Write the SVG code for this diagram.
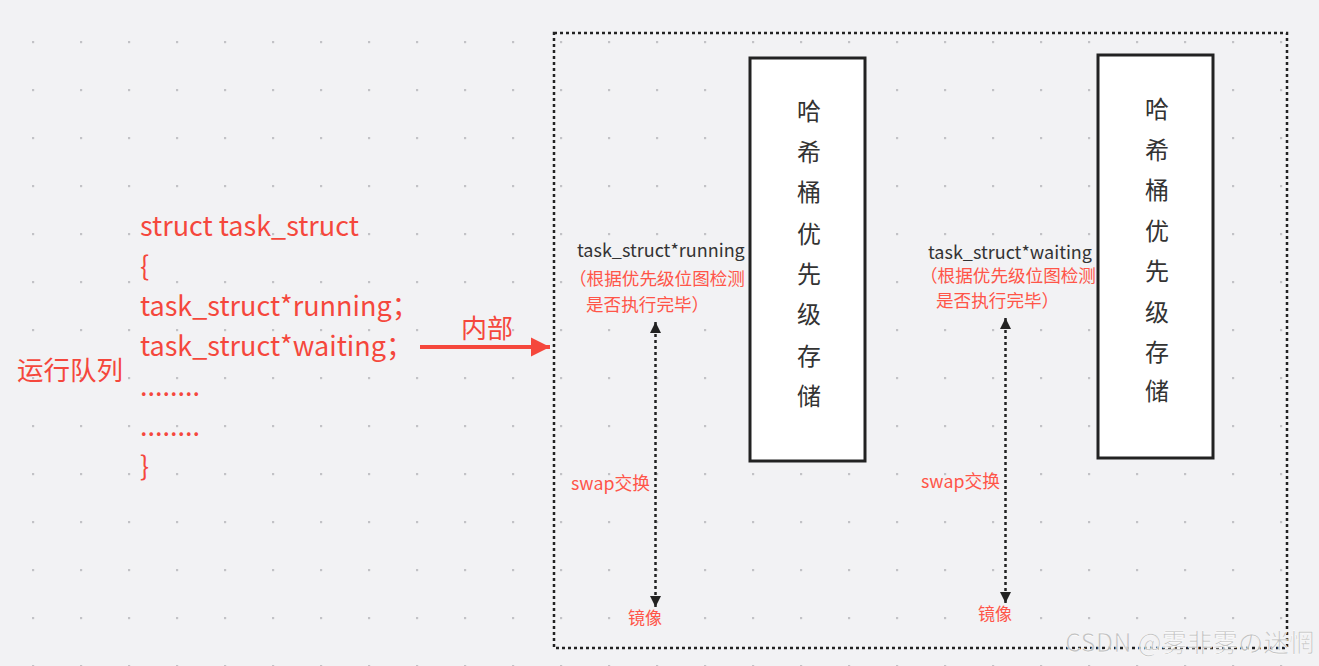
<svg xmlns="http://www.w3.org/2000/svg" width="1319" height="666" viewBox="0 0 1319 666">
<style>
text{font-family:"Noto Sans CJK SC","Noto Sans",sans-serif}
.red{fill:#f5473c}
.lbl{fill:#ff5548;font-size:17px}
.note{fill:#ff5548;font-size:17.6px}
.sw{fill:#ff5548;font-size:17.8px}
.code{fill:#f5473c;font-size:27px}
.blk{fill:#333;font-size:18px}
.vert{fill:#333;font-size:24px;text-anchor:middle}
.box{fill:#fff;stroke:#222;stroke-width:3}
.dash{fill:none;stroke:#222;stroke-width:2.5;stroke-dasharray:3 3}
</style>
<defs>
<pattern id="dots" x="32" y="41" width="48" height="48" patternUnits="userSpaceOnUse"><rect width="2.2" height="2.2" fill="#c2c2c6"/></pattern>
<marker id="ah" viewBox="0 0 10 10" refX="10" refY="5" markerWidth="13" markerHeight="11" markerUnits="userSpaceOnUse" orient="auto-start-reverse"><path d="M0,0 L10,5 L0,10 z" fill="#222"/></marker>
<marker id="rah" viewBox="0 0 10 10" refX="10" refY="5" markerWidth="19" markerHeight="21" markerUnits="userSpaceOnUse" orient="auto"><path d="M0,0 L10,5 L0,10 z" fill="#f5473c"/></marker>
</defs>
<rect width="1319" height="666" fill="#f2f2f4"/>
<rect width="1319" height="666" fill="url(#dots)"/>

<g id="container">
<rect class="dash" x="554" y="33" width="733" height="615"/>
</g>

<g id="runqueue-label">
<text class="red" x="17" y="380" font-size="26.5">运行队列</text>
</g>

<g id="struct-code">
<text class="code" x="140" y="236">struct task_struct</text>
<text class="code" x="140" y="276">{</text>
<text class="code" x="140" y="316">task_struct*running；</text>
<text class="code" x="140" y="356">task_struct*waiting；</text>
<text class="code" x="140" y="396">........</text>
<text class="code" x="140" y="436">........</text>
<text class="code" x="140" y="476">}</text>
</g>

<g id="bucket1">
<rect class="box" x="750" y="58" width="115" height="403"/>
<text class="vert" x="809" y="120">哈</text>
<text class="vert" x="809" y="161">希</text>
<text class="vert" x="809" y="201">桶</text>
<text class="vert" x="809" y="243">优</text>
<text class="vert" x="809" y="283">先</text>
<text class="vert" x="809" y="323">级</text>
<text class="vert" x="809" y="365">存</text>
<text class="vert" x="809" y="405">储</text>
</g>

<g id="bucket2">
<rect class="box" x="1098" y="55" width="115" height="403"/>
<text class="vert" x="1157" y="118">哈</text>
<text class="vert" x="1157" y="159">希</text>
<text class="vert" x="1157" y="199">桶</text>
<text class="vert" x="1157" y="240">优</text>
<text class="vert" x="1157" y="280">先</text>
<text class="vert" x="1157" y="321">级</text>
<text class="vert" x="1157" y="361">存</text>
<text class="vert" x="1157" y="400">储</text>
</g>

<g id="running-label">
<text class="blk" x="577" y="257">task_struct*running</text>
<text class="note" x="569" y="285">（根据优先级位图检测</text>
<text class="note" x="586" y="311">是否执行完毕）</text>
</g>

<g id="waiting-label">
<text class="blk" x="928" y="259">task_struct*waiting</text>
<text class="note" x="920" y="282">（根据优先级位图检测</text>
<text class="note" x="936" y="307">是否执行完毕）</text>
</g>

<g id="swap-labels">
<text class="sw" x="571" y="490">swap交换</text>
<text class="sw" x="921" y="488">swap交换</text>
</g>

<g id="mirror-labels">
<text class="lbl" x="628" y="624">镜像</text>
<text class="lbl" x="978" y="620">镜像</text>
</g>

<g id="connectors">
<line x1="420" y1="347" x2="550" y2="347" stroke="#f5473c" stroke-width="4" marker-end="url(#rah)"/>
<text class="red" x="461" y="338" font-size="26">内部</text>
<line class="dash" x1="655.5" y1="322" x2="655.5" y2="607" marker-start="url(#ah)" marker-end="url(#ah)"/>
<line class="dash" x1="1005.5" y1="318" x2="1005.5" y2="603" marker-start="url(#ah)" marker-end="url(#ah)"/>
</g>

<text x="1065" y="652" font-size="25.5" fill="#bdbdbd" stroke="#fff" stroke-width="0.6" opacity="0.9">CSDN @雾非雾の迷惘</text>
</svg>
